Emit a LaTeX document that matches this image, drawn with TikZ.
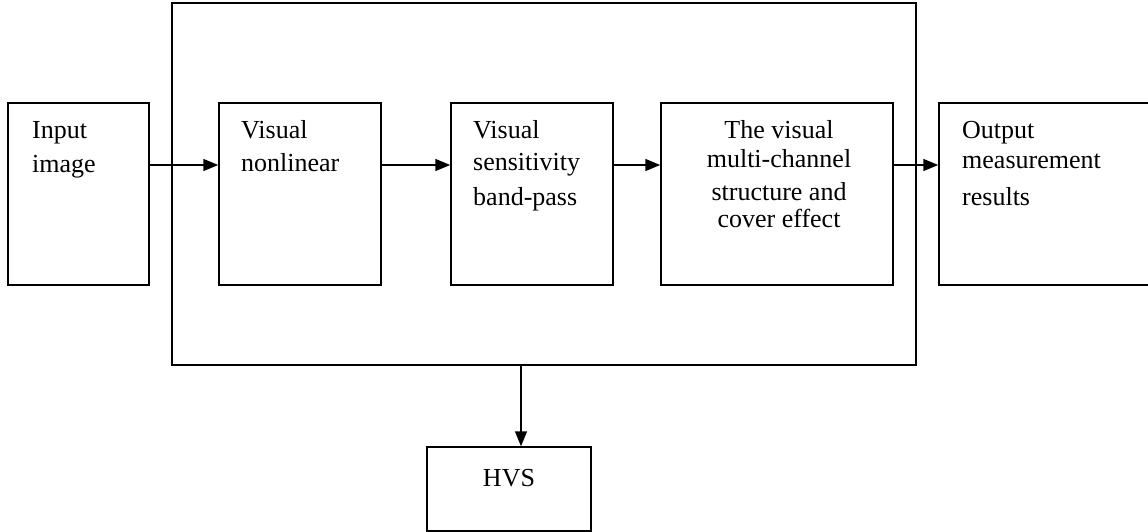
\documentclass[tikz,border=0pt]{standalone}
\usepackage{fontspec}
\setmainfont{Liberation Serif}
\usetikzlibrary{arrows.meta}
\begin{document}
\begin{tikzpicture}[x=1pt,y=-1pt,
  box/.style={draw,line width=1.5pt,inner sep=0pt,minimum width=#1},
  txt/.style={inner sep=0pt,font=\fontsize{26}{30}\selectfont},
  conn/.style={line width=1.5pt,-{Triangle[length=15pt,width=12pt]}}]
\useasboundingbox (0,0) rectangle (1148,532);
\clip (0,0) rectangle (1148,532);
% outer frame
\node[draw,line width=1.5pt,inner sep=0pt,minimum width=744pt,minimum height=362pt] (frame) at (544,184) {};
% boxes
\node[box=141pt,minimum height=182pt] (in) at (78.5,194) {};
\node[box=162pt,minimum height=182pt] (nl) at (300,194) {};
\node[box=162pt,minimum height=182pt] (bp) at (532,194) {};
\node[box=232pt,minimum height=182pt] (mc) at (777,194) {};
\node[box=230pt,minimum height=182pt] (out) at (1054,194) {};
\node[box=164pt,minimum height=84pt] (hvs) at (509,489) {};
% texts
\node[txt,anchor=base west] (in1) at (32,139) {Input};
\node[txt,anchor=base west] (in2) at (32,172) {image};
\node[txt,anchor=base west] (nl1) at (241,139) {Visual};
\node[txt,anchor=base west] (nl2) at (241,171) {nonlinear};
\node[txt,anchor=base west] (bp1) at (473,139) {Visual};
\node[txt,anchor=base west] (bp2) at (473,170) {sensitivity};
\node[txt,anchor=base west] (bp3) at (473,205) {band-pass};
\node[txt,anchor=base] (mc1) at (779,139) {The visual};
\node[txt,anchor=base] (mc2) at (779,167) {multi-channel};
\node[txt,anchor=base] (mc3) at (779,200) {structure and};
\node[txt,anchor=base] (mc4) at (779,227) {cover effect};
\node[txt,anchor=base west] (out1) at (962,139) {Output};
\node[txt,anchor=base west] (out2) at (962,168) {measurement};
\node[txt,anchor=base west] (out3) at (962,205) {results};
\node[txt,anchor=base] (hvs1) at (509,486) {HVS};
% connectors
\draw[conn] (in.east |- 0,165) -- (nl.west |- 0,165);
\draw[conn] (nl.east |- 0,165) -- (bp.west |- 0,165);
\draw[conn] (bp.east |- 0,165) -- (mc.west |- 0,165);
\draw[conn] (mc.east |- 0,165) -- (out.west |- 0,165);
\draw[conn] (frame.south -| hvs.north) ++(12,0) coordinate (fs) (fs) -- (fs |- hvs.north);
\end{tikzpicture}
\end{document}
